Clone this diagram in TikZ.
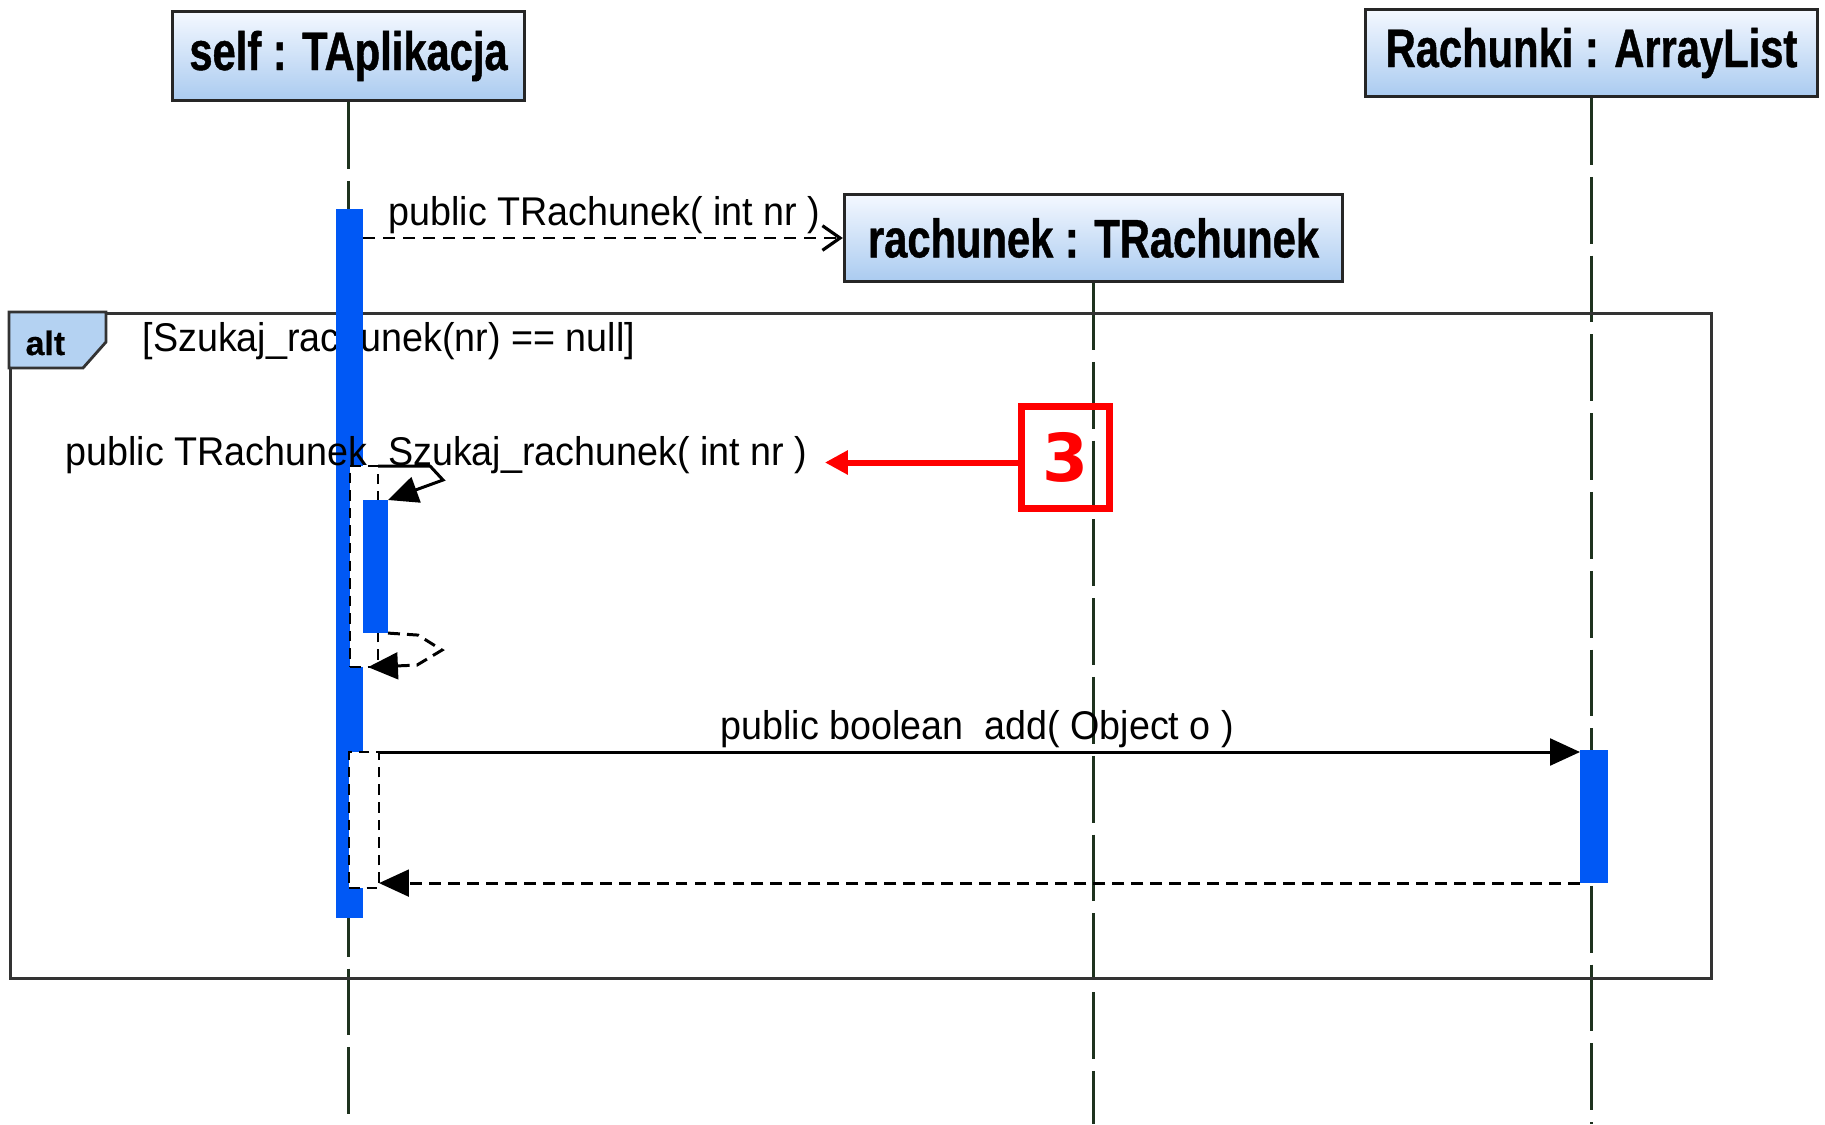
\documentclass[tikz,border=0pt]{standalone}
\usepackage{fontspec}
\usepackage{xcolor}
\usepackage{tikz}
\usetikzlibrary{arrows.meta,backgrounds}
\setmainfont{Liberation Sans}
\newfontfamily\msgfont[FakeStretch=0.94]{Liberation Sans}
\newfontfamily\headfont[FakeStretch=0.77,FakeBold=0.8]{Liberation Sans}
\newfontfamily\tagfont[FakeBold=0.6]{Liberation Sans}
\newfontfamily\markfont{DejaVu Sans}

\definecolor{boxtop}{RGB}{244,248,255}
\definecolor{boxbot}{RGB}{170,203,240}
\definecolor{tabblue}{RGB}{180,210,242}
\definecolor{barblue}{RGB}{0,88,245}
\definecolor{lifegreen}{RGB}{30,50,30}

\begin{document}
\begin{tikzpicture}[x=0.01cm, y=-0.01cm,
    objbox/.style={rectangle, draw=black!85, line width=0.9pt, top color=boxtop, bottom color=boxbot, inner sep=0pt, font=\headfont\bfseries\fontsize{15.4}{18}\selectfont},
    lifeline/.style={draw=lifegreen, line width=0.7pt, dash pattern=on 19pt off 3.4pt},
    actbar/.style={rectangle, fill=barblue, inner sep=0pt, outer sep=0pt, anchor=north west},
    focus/.style={rectangle, draw, fill=white, line width=0.5pt, dash pattern=on 3pt off 2pt, inner sep=0pt, outer sep=0pt, anchor=north west},
    msg/.style={font=\msgfont\fontsize{11.4}{13}\selectfont, inner sep=0pt, anchor=base west},
    createmsg/.style={line width=0.5pt, dash pattern=on 3.4pt off 2.3pt, -{Straight Barb[length=5pt,width=7pt,line width=0.9pt]}},
    callmsg/.style={line width=0.85pt, -{Triangle[length=8.5pt,width=7.6pt]}},
    retmsg/.style={line width=0.85pt, dash pattern=on 3.4pt off 2pt, -{Triangle[length=8.5pt,width=7.6pt]}},
    markbox/.style={rectangle, draw=red, line width=2pt, text=red, inner sep=0pt, font=\markfont\bfseries\fontsize{18.8}{20}\selectfont},
    markarrow/.style={draw=red, line width=1.7pt, -{Triangle[length=6.5pt,width=6.5pt]}}]

    \useasboundingbox (0,0) rectangle (1825,1124);
    \coordinate (bottom) at (0,1124);

    % Objects
    \node[objbox, minimum width=3.52cm, minimum height=0.89cm] (self) at (348.5,56) {self : TAplikacja};
    \node[objbox, minimum width=4.52cm, minimum height=0.87cm] (rachunki) at (1591.5,53) {Rachunki : ArrayList};
    \node[objbox, minimum width=4.98cm, minimum height=0.87cm] (rachunek) at (1093.5,238) {rachunek : TRachunek};

    % Lifelines
    \begin{scope}[on background layer]
      \draw[lifeline] (self.south) -- (self.south |- bottom);
      \draw[lifeline] (rachunek.south) -- (rachunek.south |- bottom);
      \draw[lifeline] (rachunki.south) -- (rachunki.south |- bottom);
    \end{scope}

    % Alt fragment
    \node[rectangle, draw=black!80, line width=0.8pt, inner sep=0pt, anchor=north west, minimum width=17cm, minimum height=6.65cm] (altframe) at (9,312) {};
    \draw[draw=black!80, line width=0.8pt, fill=tabblue] (9,312) -- (106,312) -- (106,342) -- (83,368) -- (9,368) -- cycle;
    \node[inner sep=0pt, anchor=base west, font=\tagfont\bfseries\fontsize{9.6}{11}\selectfont] (alttag) at (25,355) {alt};
    \node[msg] (lblguard) at (142,351) {[Szukaj\_rachunek(nr) == null]};

    % Activations
    \node[actbar, minimum width=0.27cm, minimum height=7.09cm] (selfbar) at (336,209) {};
    \node[focus, minimum width=0.28cm, minimum height=2.01cm] (focus1) at (350,466) {};
    \node[focus, minimum width=0.30cm, minimum height=1.36cm] (focus2) at (349,752) {};
    \node[actbar, minimum width=0.25cm, minimum height=1.33cm] (innerbar) at (363,500) {};
    \node[actbar, minimum width=0.28cm, minimum height=1.33cm] (listbar) at (1580,750) {};

    % Messages
    \draw[createmsg] (selfbar.east |- rachunek.west) -- (rachunek.west);
    \node[msg] (lblcreate) at (388,225) {public TRachunek( int nr )};

    \draw[callmsg] (focus1.north east) -- ++(52,0) -- ++(13,14) -- (innerbar.north east);
    \draw[retmsg] (innerbar.south east) -- ++(30,2) -- ++(24,15) -- ++(-25,15) -- ([xshift=-0.1cm]focus1.south east);
    \node[msg] (lblfind) at (65,465) {public TRachunek\ \ Szukaj\_rachunek( int nr )};

    \draw[callmsg] (focus2.north east) -- (focus2.north east -| listbar.west);
    \draw[retmsg] (listbar.south west) -- (listbar.south west -| focus2.east);
    \node[msg] (lbladd) at (720,739) {public boolean\ \ add( Object o )};

    % Marker
    \node[markbox, minimum width=0.88cm, minimum height=1.02cm] (mark3) at (1065.5,457.5) {3};
    \draw[markarrow, shorten >=0.17cm] ([yshift=-0.05cm]mark3.west) -- ([yshift=-0.05cm]mark3.west -| lblfind.east);

\end{tikzpicture}
\end{document}
